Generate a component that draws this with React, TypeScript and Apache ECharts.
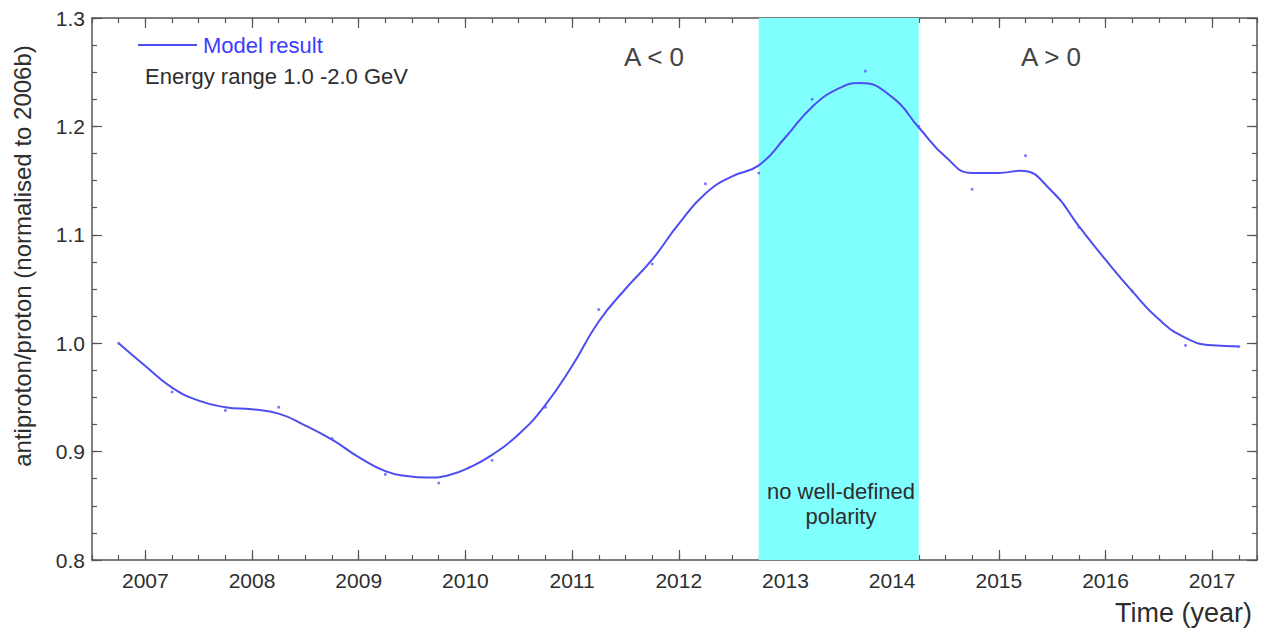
import { useEffect, useRef } from 'react';
import * as echarts from 'echarts';

// Model curve (year, ratio)
const curveYears = [2006.75, 2007.0, 2007.25, 2007.5, 2007.75, 2008.0, 2008.25, 2008.5, 2008.75, 2009.0, 2009.25, 2009.45, 2009.65, 2009.85, 2010.05, 2010.25, 2010.5, 2010.75, 2011.0, 2011.25, 2011.5, 2011.75, 2012.0, 2012.25, 2012.5, 2012.75, 2013.0, 2013.25, 2013.5, 2013.7, 2014.0, 2014.25, 2014.5, 2014.75, 2015.0, 2015.2, 2015.5, 2015.75, 2016.0, 2016.25, 2016.5, 2016.75, 2017.0, 2017.25];
const curveValues = [1.0, 0.979, 0.959, 0.947, 0.941, 0.939, 0.935, 0.924, 0.911, 0.895, 0.882, 0.8775, 0.876, 0.8785, 0.886, 0.897, 0.916, 0.943, 0.979, 1.02, 1.05, 1.077, 1.11, 1.138, 1.154, 1.164, 1.19, 1.218, 1.235, 1.24, 1.227, 1.199, 1.172, 1.157, 1.157, 1.159, 1.14, 1.108, 1.077, 1.048, 1.022, 1.005, 0.998, 0.997];

// Observed points (tiny dots)
const obsYears = [2006.75, 2007.25, 2007.75, 2008.25, 2008.75, 2009.25, 2009.75, 2010.25, 2010.75, 2011.25, 2011.75, 2012.25, 2012.75, 2013.25, 2013.75, 2014.25, 2014.75, 2015.25, 2015.75, 2016.25, 2016.75, 2017.25];
const obsValues = [1.0, 0.955, 0.938, 0.941, 0.912, 0.879, 0.871, 0.892, 0.941, 1.031, 1.073, 1.147, 1.157, 1.225, 1.251, 1.2, 1.142, 1.173, 1.107, 1.048, 0.998, 0.997];

const majorYears = [2007, 2008, 2009, 2010, 2011, 2012, 2013, 2014, 2015, 2016, 2017];
const yTickValues = [0.8, 0.9, 1.0, 1.1, 1.2, 1.3];
const bandRange = [2012.75, 2014.25];

const FONT = '"Liberation Sans", Arial, sans-serif';
const AXIS_COLOR = '#555';
const TEXT_COLOR = '#2e2e2e';
const LINE_COLOR = '#4d4df2';

export default function App() {
  const ref = useRef<HTMLDivElement>(null);

  useEffect(() => {
    if (!ref.current) return;
    const chart = echarts.init(ref.current, undefined, { renderer: 'svg' });

    const xMin = 2006.5;
    const xMax = 2017.42;
    const axisLine = { show: true, lineStyle: { color: AXIS_COLOR, width: 1.5 } };

    const minorX = (position: string) => ({
      type: 'value', position, min: xMin, max: xMax, interval: 0.25,
      axisLine, splitLine: { show: false },
      axisTick: { show: true, inside: true, length: 5, lineStyle: { color: AXIS_COLOR, width: 1.2 } },
      axisLabel: { show: false },
    });
    const majorX = (position: string, labels: boolean) => ({
      type: 'value', position, min: xMin, max: xMax,
      axisLine: { show: false }, splitLine: { show: false },
      axisTick: { show: true, inside: true, length: 10, customValues: majorYears, lineStyle: { color: AXIS_COLOR, width: 1.2 } },
      axisLabel: labels
        ? { show: true, customValues: majorYears, fontSize: 21, color: TEXT_COLOR, fontFamily: FONT, margin: 10, formatter: (v: number) => String(Math.round(v)) }
        : { show: false },
    });
    const minorY = (position: string) => ({
      type: 'value', position, min: 0.8, max: 1.3, interval: 0.025,
      axisLine, splitLine: { show: false },
      axisTick: { show: true, inside: true, length: 5, lineStyle: { color: AXIS_COLOR, width: 1.2 } },
      axisLabel: { show: false },
    });
    const majorY = (position: string, labels: boolean) => ({
      type: 'value', position, min: 0.8, max: 1.3,
      axisLine: { show: false }, splitLine: { show: false },
      axisTick: { show: true, inside: true, length: 10, customValues: yTickValues, lineStyle: { color: AXIS_COLOR, width: 1.2 } },
      axisLabel: labels
        ? { show: true, customValues: yTickValues, fontSize: 21, color: TEXT_COLOR, fontFamily: FONT, margin: 7, formatter: (v: number) => v.toFixed(1) }
        : { show: false },
    });

    chart.setOption({
      animation: false,
      backgroundColor: '#ffffff',
      grid: { left: 92, right: 11, top: 18, bottom: 72, containLabel: false },
      xAxis: [minorX('bottom'), majorX('bottom', true), minorX('top'), majorX('top', false)],
      yAxis: [minorY('left'), majorY('left', true), minorY('right'), majorY('right', false)],
      series: [
        {
          type: 'line',
          xAxisIndex: 0, yAxisIndex: 0,
          data: curveYears.map((x, i) => [x, curveValues[i]]),
          smooth: 0.5,
          showSymbol: false,
          lineStyle: { color: LINE_COLOR, width: 2 },
          z: 3,
          markArea: {
            silent: true,
            itemStyle: { color: '#80ffff', opacity: 1 },
            data: [[{ xAxis: bandRange[0] }, { xAxis: bandRange[1] }]],
          },
        },
        {
          type: 'scatter',
          xAxisIndex: 0, yAxisIndex: 0,
          data: obsYears.map((x, i) => [x, obsValues[i]]),
          symbolSize: 3,
          itemStyle: { color: '#5a5aff' },
          z: 4,
        },
      ],
      graphic: [
        { type: 'text', x: 22, y: 256, rotation: Math.PI / 2, style: { text: 'antiproton/proton (normalised to 2006b)', fontSize: 24, fill: TEXT_COLOR, fontFamily: FONT, align: 'center', verticalAlign: 'middle' } },
        { type: 'line', shape: { x1: 138, y1: 45, x2: 197, y2: 45 }, style: { stroke: LINE_COLOR, lineWidth: 2 } },
        { type: 'text', x: 203, y: 45, style: { text: 'Model result', fontSize: 22, fill: '#3c3cff', fontFamily: FONT, verticalAlign: 'middle' } },
        { type: 'text', x: 145, y: 76, style: { text: 'Energy range 1.0 -2.0 GeV', fontSize: 22, fill: TEXT_COLOR, fontFamily: FONT, verticalAlign: 'middle' } },
        { type: 'text', x: 654, y: 57, style: { text: 'A < 0', fontSize: 26, fill: '#444', fontFamily: FONT, align: 'center', verticalAlign: 'middle' } },
        { type: 'text', x: 1051, y: 57, style: { text: 'A > 0', fontSize: 26, fill: '#444', fontFamily: FONT, align: 'center', verticalAlign: 'middle' } },
        { type: 'text', x: 841, y: 504, z: 10, style: { text: 'no well-defined\npolarity', fontSize: 22, lineHeight: 25, fill: TEXT_COLOR, fontFamily: FONT, align: 'center', verticalAlign: 'middle' } },
        { type: 'text', x: 1252, y: 613, style: { text: 'Time (year)', fontSize: 27, fill: TEXT_COLOR, fontFamily: FONT, align: 'right', verticalAlign: 'middle' } },
      ],
    });

    return () => chart.dispose();
  }, []);

  return <div ref={ref} style={{ position: 'fixed', left: 0, top: 0, width: 1268, height: 632 }} />;
}
